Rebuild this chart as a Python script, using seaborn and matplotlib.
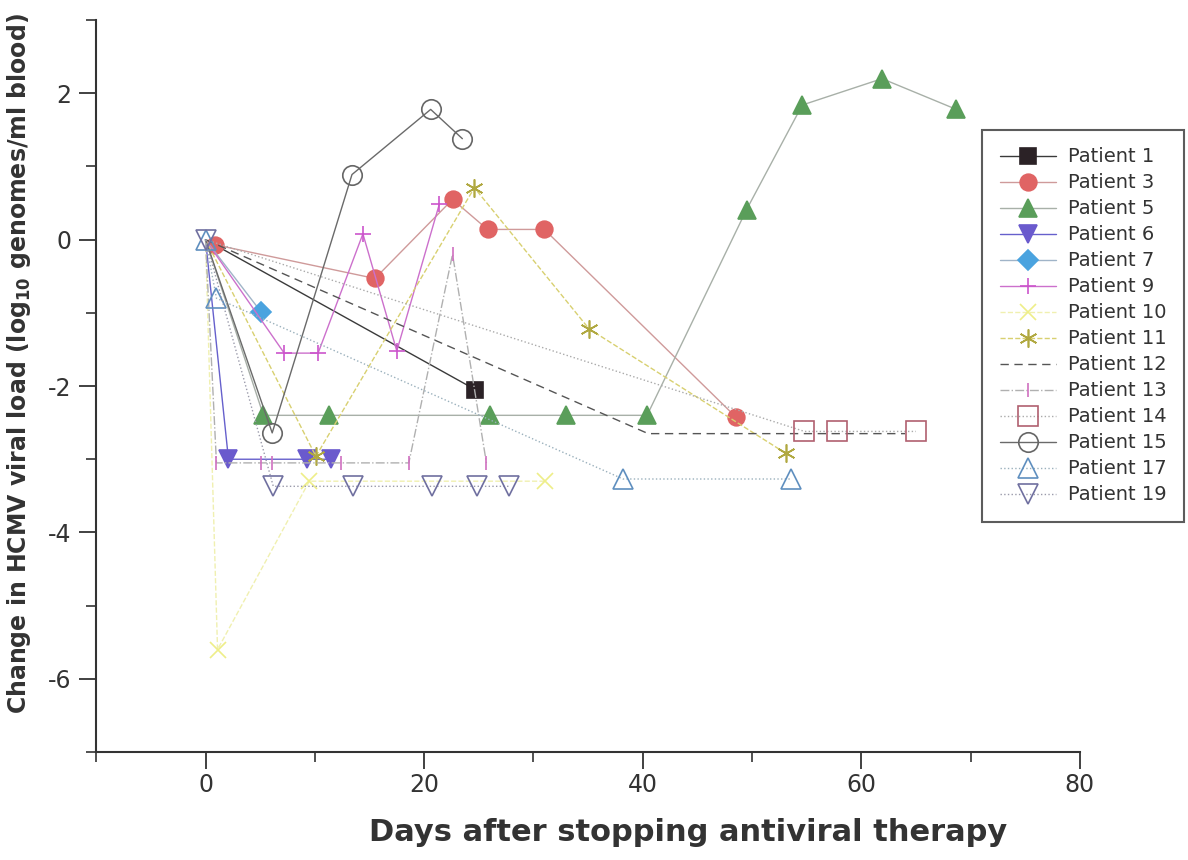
import numpy as np
import pandas as pd
import seaborn as sns
import matplotlib.pyplot as plt
from matplotlib.ticker import MultipleLocator

# Viral load change per patient (days after stopping therapy, log10 change)
p1_days = [0, 24.7]
p1_load = [0, -2.05]
p3_days = [0.9, 15.5, 22.6, 25.8, 31.0, 48.5]
p3_load = [-0.07, -0.53, 0.55, 0.14, 0.14, -2.42]
p5_days = [0, 5.3, 11.3, 26.0, 33.0, 40.4, 49.5, 54.6, 61.9, 68.7]
p5_load = [0, -2.4, -2.4, -2.4, -2.4, -2.4, 0.41, 1.84, 2.2, 1.78]
p6_days = [0, 2.1, 9.3, 11.5]
p6_load = [0, -3.0, -3.0, -3.0]
p7_days = [0, 5.1]
p7_load = [0, -0.99]
p9_days = [0, 7.2, 10.3, 14.4, 17.5, 21.4]
p9_load = [0, -1.55, -1.55, 0.08, -1.52, 0.49]
p10_days = [0, 1.1, 9.5, 31.1]
p10_load = [0, -5.6, -3.3, -3.3]
p11_days = [0, 10.1, 24.6, 35.1, 53.1]
p11_load = [0, -2.96, 0.71, -1.22, -2.92]
p12_days = [0, 40.5, 64.0]
p12_load = [0, -2.65, -2.65]
p13_days = [0, 1.0, 5.1, 6.1, 12.4, 18.6, 22.6, 25.7]
p13_load = [0, -3.05, -3.05, -3.05, -3.05, -3.05, -0.2, -3.05]
p14_days = [0, 54.8, 57.8, 65.0]
p14_load = [0, -2.62, -2.62, -2.62]
p15_days = [0, 6.1, 13.4, 20.6, 23.5]
p15_load = [0, -2.64, 0.89, 1.78, 1.38]
p17_days = [0, 1.0, 38.2, 53.6]
p17_load = [0, -0.8, -3.27, -3.27]
p19_days = [0, 6.2, 13.5, 20.7, 24.8, 27.8]
p19_load = [0, -3.37, -3.37, -3.37, -3.37, -3.37]

patients = [
    ("Patient 1", p1_days, p1_load),
    ("Patient 3", p3_days, p3_load),
    ("Patient 5", p5_days, p5_load),
    ("Patient 6", p6_days, p6_load),
    ("Patient 7", p7_days, p7_load),
    ("Patient 9", p9_days, p9_load),
    ("Patient 10", p10_days, p10_load),
    ("Patient 11", p11_days, p11_load),
    ("Patient 12", p12_days, p12_load),
    ("Patient 13", p13_days, p13_load),
    ("Patient 14", p14_days, p14_load),
    ("Patient 15", p15_days, p15_load),
    ("Patient 17", p17_days, p17_load),
    ("Patient 19", p19_days, p19_load),
]

asterisk = (6, 2, 0)
# line color, linestyle, marker, marker face, marker edge, marker size
styles = {
    "Patient 1": ("#3a3a3a", "-", "s", "#2b2226", "#2b2226", 11),
    "Patient 3": ("#cf9a9a", "-", "o", "#e06464", "#e06464", 12),
    "Patient 5": ("#a8b0a8", "-", "^", "#5a9e5a", "#5a9e5a", 13),
    "Patient 6": ("#6660cc", "-", "v", "#6a5acd", "#6a5acd", 13),
    "Patient 7": ("#a0b4c8", "-", "D", "#4aa3df", "#4aa3df", 10),
    "Patient 9": ("#cc70cc", "-", "+", "#cc55cc", "#cc55cc", 11),
    "Patient 10": ("#f0f0b0", "--", "x", "#eeee88", "#eeee88", 11),
    "Patient 11": ("#d8d070", "--", asterisk, "#c8c048", "#b0a840", 13),
    "Patient 12": ("#555555", (0, (6, 4)), "None", "none", "#555555", 10),
    "Patient 13": ("#b0b0b0", "-.", "|", "#d070c0", "#d070c0", 10),
    "Patient 14": ("#aaaaaa", ":", "s", "none", "#b06070", 14),
    "Patient 15": ("#6a6a6a", "-", "o", "none", "#666666", 14),
    "Patient 17": ("#9ab0bc", ":", "^", "none", "#5f8fbf", 15),
    "Patient 19": ("#9a9aaa", ":", "v", "none", "#7070a0", 15),
}
# patients whose day-0 point is drawn without a symbol
no_origin_marker = ["Patient 1", "Patient 5", "Patient 6", "Patient 7",
                    "Patient 9", "Patient 10", "Patient 11", "Patient 12",
                    "Patient 13", "Patient 14", "Patient 15"]

sns.set_style("ticks")
plt.rcParams["font.family"] = ["DejaVu Sans"]
plt.rcParams["axes.unicode_minus"] = False
plt.rcParams["mathtext.fontset"] = "custom"
plt.rcParams["mathtext.rm"] = "DejaVu Sans:bold"
plt.rcParams["mathtext.bf"] = "DejaVu Sans:bold"

fig = plt.figure(figsize=(11.88, 8.6), dpi=100)
ax = fig.add_axes([0.081, 0.1256, 0.828, 0.851])

for name, days, load in patients:
    lc, ls, mk, mfc, mec, ms = styles[name]
    df = pd.DataFrame({"day": days, "load": load})
    every = slice(1, None) if name in no_origin_marker else None
    sns.lineplot(data=df, x="day", y="load", ax=ax, sort=False, estimator=None,
                 color=lc, linestyle=ls, linewidth=1.0, marker=mk,
                 markersize=ms, markerfacecolor=mfc, markeredgecolor=mec,
                 markeredgewidth=1.2, markevery=every, label=name)

ax.set_xlim(-10, 80)
ax.set_ylim(-7, 3)
ax.set_xticks([0, 20, 40, 60, 80])
ax.set_yticks([-6, -4, -2, 0, 2])
ax.xaxis.set_minor_locator(MultipleLocator(10))
ax.yaxis.set_minor_locator(MultipleLocator(1))
ax.tick_params(which="major", length=12, width=1.3, labelsize=17,
               colors="#333333", pad=6)
ax.tick_params(axis="x", which="major", pad=3)
ax.tick_params(which="minor", length=7, width=1.2, colors="#333333")
for s in ["left", "bottom"]:
    ax.spines[s].set_linewidth(1.5)
    ax.spines[s].set_color("#333333")
sns.despine(ax=ax)

ax.set_xlabel("Days after stopping antiviral therapy", fontsize=22,
              fontweight="bold", color="#333333")
ax.xaxis.set_label_coords(0.602, -0.09)
ax.set_ylabel(r"Change in HCMV viral load (log$_{10}$ genomes/ml blood)",
              fontsize=17, fontweight="bold", color="#333333")
ax.yaxis.set_label_coords(-0.064, 0.53)

leg = ax.legend(loc="upper left", bbox_to_anchor=(982 / 1188, 1 - 130 / 860),
                bbox_transform=fig.transFigure, fontsize=14, frameon=True,
                fancybox=False, edgecolor="#333333", handlelength=2.9,
                labelspacing=0.36, borderpad=0.9, handletextpad=0.6,
                borderaxespad=0)
leg.get_frame().set_linewidth(1.5)
for t in leg.get_texts():
    t.set_color("#333333")
for h in leg.legend_handles:
    h.set_markevery([1])

fig.savefig("out.png", dpi=100, facecolor="white")
